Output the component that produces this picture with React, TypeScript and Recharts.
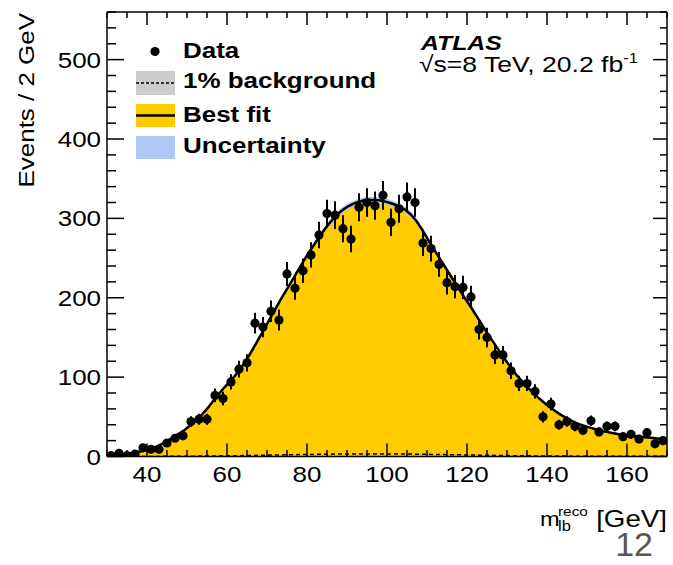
import { ComposedChart, Area, Line, Scatter, ErrorBar, XAxis, YAxis } from 'recharts';

// m_lb reco spectrum, 2 GeV bins from 30 to 170 GeV
const binCenters = Array.from({ length: 70 }, (_, i) => 31 + 2 * i);

const counts = [
  1, 4, 1, 3, 11, 9, 9, 17, 23, 26,
  44, 47, 47, 77, 73, 94, 110, 118, 168, 163,
  183, 172, 230, 212, 234, 254, 279, 306, 304, 287,
  274, 314, 320, 316, 329, 295, 312, 327, 320, 269,
  262, 242, 219, 214, 213, 201, 160, 150, 128, 128,
  108, 92, 92, 82, 50, 66, 40, 44, 38, 33,
  45, 31, 38, 38, 25, 28, 22, 30, 16, 20,
];

// best-fit template, sampled at the range edges and at every bin center
const fitMass = [30, ...binCenters, 170];
const fitValues = [
  1,
  1, 2, 3, 5, 7, 10, 14, 19, 26, 32,
  40, 49, 60, 73, 85, 96, 108, 123, 140, 158,
  176, 194, 211, 228, 245, 261, 276, 290, 302, 311,
  317, 321, 323, 323, 322, 319, 315, 309, 299, 284,
  267, 251, 235, 219, 203, 188, 172, 156, 141, 126,
  112, 99, 88, 78, 69, 61, 54, 48, 43, 39,
  36, 33, 31, 29, 27, 26, 25, 24, 23, 22,
  22,
];

const FIT_UNCERTAINTY = 0.012; // relative width of the fit band
const BKG_FRACTION = 0.01; // 1% background component

const xTicks = Array.from({ length: 29 }, (_, i) => 30 + 5 * i);
const yTicks = Array.from({ length: 29 }, (_, i) => 20 * i);

const fitRows = fitMass.map((m, i) => ({
  mass: m,
  fit: fitValues[i],
  band: [fitValues[i] * (1 - FIT_UNCERTAINTY), fitValues[i] * (1 + FIT_UNCERTAINTY)],
  bkg: fitValues[i] * BKG_FRACTION,
}));

const dataRows = binCenters.map((m, i) => ({
  mass: m,
  count: counts[i],
  err: Math.sqrt(counts[i]),
}));

const YELLOW = '#ffcc00';
const BLUE = '#b0c8f8';
const FONT = '"Liberation Sans", Arial, Helvetica, sans-serif';
const SX = 1.18; // wide glyphs

const Label = ({ x, y, children, size = 22, anchor = 'start', weight = 'normal', italic = false, rotate = 0, fill = '#000' }: any) => (
  <text
    transform={`translate(${x},${y}) rotate(${rotate}) scale(${SX},1)`}
    fontFamily={FONT}
    fontSize={size}
    fontWeight={weight}
    fontStyle={italic ? 'italic' : 'normal'}
    textAnchor={anchor}
    fill={fill}
  >
    {children}
  </text>
);

// plot frame edges
const LEFT = 107;
const BOTTOM = 456.5;
const TOP = 12;
const RIGHT = 667;

const BottomTick = ({ x, payload }: any) => {
  const major = payload.value % 20 === 0;
  return (
    <g>
      <line x1={x} x2={x} y1={BOTTOM} y2={BOTTOM - (major ? 13 : 6.5)} stroke="#000" strokeWidth={1.5} />
      {major && <Label x={x} y={BOTTOM + 25} anchor="middle">{payload.value}</Label>}
    </g>
  );
};

const TopTick = ({ x, payload }: any) => {
  const major = payload.value % 20 === 0;
  return <line x1={x} x2={x} y1={TOP} y2={TOP + (major ? 13 : 6)} stroke="#000" strokeWidth={1.5} />;
};

const LeftTick = ({ y, payload }: any) => {
  const major = payload.value % 100 === 0;
  return (
    <g>
      <line x1={LEFT} x2={LEFT + (major ? 17 : 9)} y1={y} y2={y} stroke="#000" strokeWidth={1.5} />
      {major && <Label x={LEFT - 6} y={y + 8} anchor="end">{payload.value}</Label>}
    </g>
  );
};

const RightTick = ({ y, payload }: any) => {
  const major = payload.value % 100 === 0;
  return <line x1={RIGHT} x2={RIGHT - (major ? 14 : 7)} y1={y} y2={y} stroke="#000" strokeWidth={1.5} />;
};

const DataDot = ({ cx, cy }: any) => <circle cx={cx} cy={cy} r={4.6} fill="#000" />;

const Overlay = () => (
  <svg width={673} height={565} style={{ position: 'absolute', left: 0, top: 0, pointerEvents: 'none' }}>
    <Label x={34} y={13} anchor="end" rotate={-90}>Events / 2 GeV</Label>

    {/* legend */}
    <circle cx={155} cy={51.5} r={4.6} fill="#000" />
    <Label x={183} y={57.5} weight="bold">Data</Label>
    <rect x={136} y={71} width={39} height={24} fill="#cccccc" />
    <line x1={136} x2={175} y1={83} y2={83} stroke="#000" strokeWidth={1.5} strokeDasharray="3 2" />
    <Label x={183} y={87.5} weight="bold">1% background</Label>
    <rect x={136} y={104} width={39} height={23} fill={YELLOW} />
    <line x1={136} x2={175} y1={115.5} y2={115.5} stroke="#000" strokeWidth={2.5} />
    <Label x={183} y={121.8} weight="bold">Best fit</Label>
    <rect x={136} y={136} width={39} height={23} fill={BLUE} />
    <Label x={183} y={152.5} weight="bold">Uncertainty</Label>

    <Label x={421} y={50} weight="bold" italic size={21}>ATLAS</Label>
    <Label x={419} y={71.5} size={22.5}>
      √s=8 TeV, 20.2 fb<tspan fontSize={14} dy={-9}>-1</tspan>
    </Label>

    {/* axis title */}
    <Label x={540} y={526} size={20}>m</Label>
    <Label x={558} y={516} size={13}>reco</Label>
    <Label x={558} y={531} size={14}>lb</Label>
    <Label x={667} y={527} anchor="end" size={23.5}>[GeV]</Label>

    <text x={653} y={556} fontFamily={FONT} fontSize={34} textAnchor="end" fill="#5c554e">12</text>
  </svg>
);

export default function App() {
  return (
    <div style={{ position: 'absolute', left: 0, top: 0, width: 673, height: 565, background: '#fff' }}>
      <ComposedChart
        width={673}
        height={565}
        data={fitRows}
        margin={{ top: TOP - 1, right: 673 - RIGHT - 1, bottom: 565 - BOTTOM - 40, left: LEFT - 60 }}
      >
        <XAxis
          dataKey="mass"
          type="number"
          domain={[30, 170]}
          ticks={xTicks}
          interval={0}
          allowDataOverflow
          height={40}
          tickLine={false}
          tick={<BottomTick />}
          axisLine={{ stroke: '#000', strokeWidth: 1.5 }}
        />
        <XAxis
          xAxisId="top"
          orientation="top"
          dataKey="mass"
          type="number"
          domain={[30, 170]}
          ticks={xTicks}
          interval={0}
          allowDataOverflow
          height={1}
          tickLine={false}
          tick={<TopTick />}
          axisLine={{ stroke: '#000', strokeWidth: 1.5 }}
        />
        <YAxis
          type="number"
          domain={[0, 560]}
          ticks={yTicks}
          interval={0}
          allowDataOverflow
          width={60}
          tickLine={false}
          tick={<LeftTick />}
          axisLine={{ stroke: '#000', strokeWidth: 1.5 }}
        />
        <YAxis
          yAxisId="right"
          orientation="right"
          type="number"
          domain={[0, 560]}
          ticks={yTicks}
          interval={0}
          allowDataOverflow
          width={1}
          tickLine={false}
          tick={<RightTick />}
          axisLine={{ stroke: '#000', strokeWidth: 1.5 }}
        />
        <Area dataKey="fit" type="monotone" fill={YELLOW} fillOpacity={1} stroke="none" isAnimationActive={false} />
        <Area dataKey="band" type="monotone" fill={BLUE} fillOpacity={1} stroke="none" isAnimationActive={false} />
        <Line dataKey="fit" type="monotone" stroke="#000" strokeWidth={2.5} dot={false} isAnimationActive={false} />
        <Line dataKey="bkg" type="monotone" stroke="#000" strokeWidth={1.5} strokeDasharray="4 3" dot={false} isAnimationActive={false} />
        <Scatter data={dataRows} dataKey="count" shape={<DataDot />} isAnimationActive={false}>
          <ErrorBar dataKey="err" direction="y" width={0} stroke="#000" strokeWidth={2} />
        </Scatter>
      </ComposedChart>
      <Overlay />
    </div>
  );
}
